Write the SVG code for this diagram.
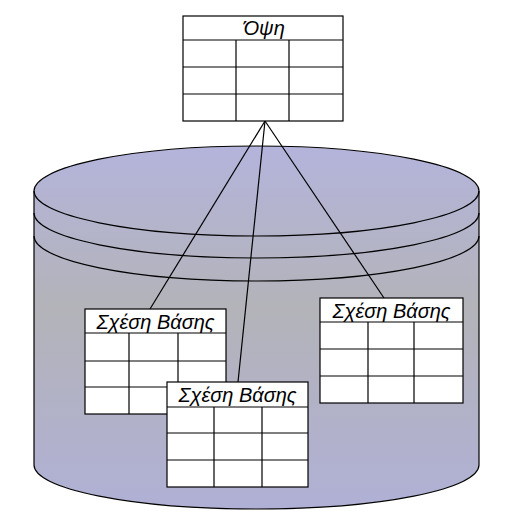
<svg xmlns="http://www.w3.org/2000/svg" width="525" height="526" viewBox="0 0 525 526">
  <defs>
    <linearGradient id="cylFill" x1="0" y1="146" x2="0" y2="509" gradientUnits="userSpaceOnUse">
      <stop offset="0" stop-color="#b4b4dc"/>
      <stop offset="0.45" stop-color="#b3b3b9"/>
      <stop offset="1" stop-color="#b0b0d6"/>
    </linearGradient>
    <style>
      .ln { fill: none; stroke: #000; stroke-width: 1.2; }
      .tbl { fill: #fff; stroke: #000; stroke-width: 1.2; }
      .grid { stroke: #000; stroke-width: 1.2; fill: none; }
      .lbl { font-family: "Liberation Sans", Arial, sans-serif; font-style: italic; font-size: 20px; fill: #000; text-anchor: middle; }
    </style>
  </defs>
  <rect width="525" height="526" fill="#fff"/>
  <g id="database">
    <path d="M34,191 L34,465 A222.5,44 0 0 0 479,465 L479,191 A222.5,45 0 0 0 34,191 Z" fill="url(#cylFill)" stroke="#000" stroke-width="1.2"/>
    <path class="ln" d="M34,191 A222.5,45 0 0 0 479,191"/>
    <path class="ln" d="M34,213 A222.5,45 0 0 0 479,213"/>
    <path class="ln" d="M34,236 A222.5,45 0 0 0 479,236"/>
  </g>
  <g id="connectors">
    <line class="ln" x1="265" y1="121" x2="150" y2="309"/>
    <line class="ln" x1="265" y1="121" x2="238" y2="382"/>
    <line class="ln" x1="265" y1="121" x2="384" y2="298"/>
  </g>
  <g id="view">
    <rect class="tbl" x="183" y="16" width="160" height="105"/>
    <path class="grid" d="M183,40 H343 M183,67 H343 M183,94 H343 M236,40 V121 M289,40 V121"/>
    <text class="lbl" x="264" y="35">Όψη</text>
  </g>
  <g id="relation-left">
    <rect class="tbl" x="85" y="309" width="141" height="105"/>
    <path class="grid" d="M85,333 H226 M85,361 H226 M85,387 H226 M129,333 V414 M178,333 V414"/>
    <text class="lbl" x="155.5" y="329">Σχέση Βάσης</text>
  </g>
  <g id="relation-right">
    <rect class="tbl" x="320" y="298" width="143" height="105"/>
    <path class="grid" d="M320,322 H463 M320,349 H463 M320,376 H463 M368,322 V403 M414,322 V403"/>
    <text class="lbl" x="391.5" y="318">Σχέση Βάσης</text>
  </g>
  <g id="relation-middle">
    <rect class="tbl" x="167" y="382" width="141" height="105"/>
    <path class="grid" d="M167,407 H308 M167,433 H308 M167,460 H308 M214,407 V487 M262,407 V487"/>
    <text class="lbl" x="237.5" y="402">Σχέση Βάσης</text>
  </g>
</svg>
